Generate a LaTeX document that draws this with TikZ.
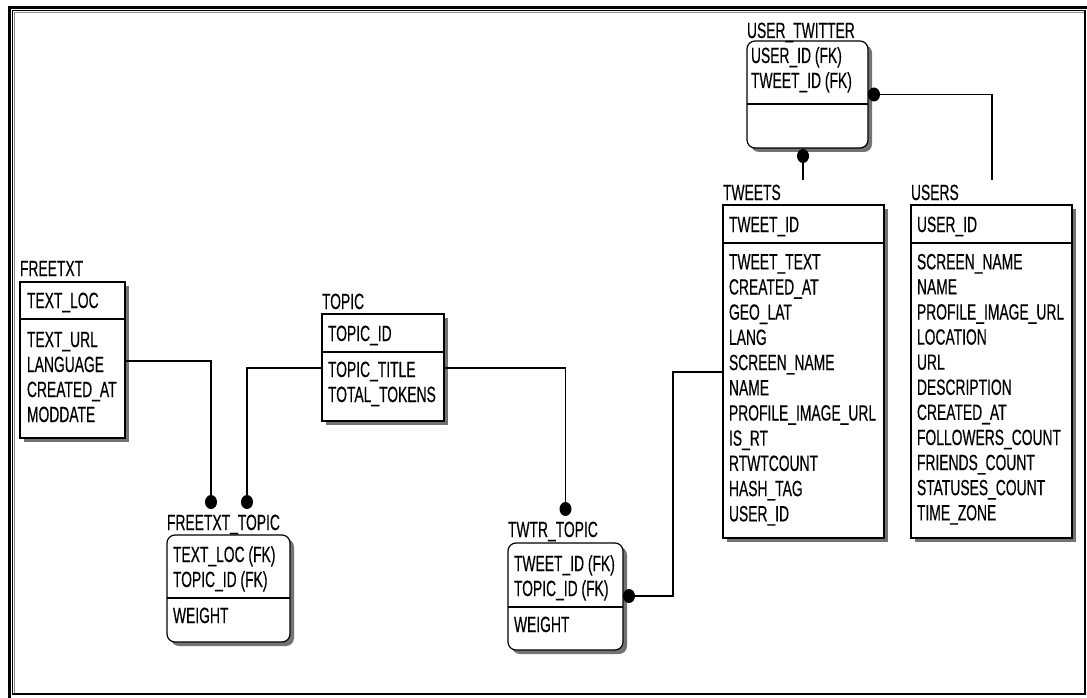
\documentclass[tikz,border=0pt]{standalone}
\usepackage{fontspec}
\setmainfont{Liberation Sans}[FakeStretch=0.63,FakeBold=0.4]
\usetikzlibrary{shapes.geometric,shadows}
\begin{document}
\begin{tikzpicture}[x=1pt,y=-1pt,
  every node/.style={inner sep=0pt, outer sep=0pt},
  txt/.style={anchor=base west, font=\fontsize{22}{25}\selectfont},
  entity/.style={draw, fill=white, line width=1.2pt, anchor=north west,
    drop shadow={shadow xshift=4pt, shadow yshift=-4pt, opacity=1, fill=black!55}},
  depbox/.style={entity, rounded corners=8pt},
  sepline/.style={line width=1.2pt},
  conn/.style={line width=1.2pt},
  fkdot/.style={ellipse, fill=black, minimum width=12pt, minimum height=14pt},
]
\useasboundingbox (0,0) rectangle (1087,698);
\fill[white] (0,0) rectangle (1087,698);
% frame
\draw[line width=3pt] (9.5,698) -- (9.5,7.5) -- (1087,7.5);
\draw[line width=1.2pt] (12.6,10.6) rectangle (1085,694);
\draw[black!45, line width=1.2pt] (14.2,693) -- (14.2,12.2) -- (1084,12.2);

% ---------- FREETXT
\node[entity, minimum width=105pt, minimum height=156pt] (freetxt) at (20,282) {};
\draw[sepline] (freetxt.west |- 0,319) -- (freetxt.east |- 0,319);
\node[txt] (freetxt-name) at (20,276) {FREETXT};
\node[txt] (freetxt-k) at (27,308) {TEXT\_LOC};
\foreach \t [count=\i from 0] in {TEXT\_URL,LANGUAGE,CREATED\_AT,MODDATE}
  \node[txt] (freetxt-a\i) at (27,347+25*\i) {\t};

% ---------- TOPIC
\node[entity, minimum width=122pt, minimum height=107pt] (topic) at (322,314) {};
\draw[sepline] (topic.west |- 0,352) -- (topic.east |- 0,352);
\node[txt] (topic-name) at (322,309) {TOPIC};
\node[txt] (topic-k) at (328,341) {TOPIC\_ID};
\foreach \t [count=\i from 0] in {TOPIC\_TITLE,TOTAL\_TOKENS}
  \node[txt] (topic-a\i) at (328,377+25*\i) {\t};

% ---------- TWEETS
\node[entity, minimum width=161pt, minimum height=333pt] (tweets) at (723,205) {};
\draw[sepline] (tweets.west |- 0,243) -- (tweets.east |- 0,243);
\node[txt] (tweets-name) at (723,200) {TWEETS};
\node[txt] (tweets-k) at (729,232) {TWEET\_ID};
\foreach \t [count=\i from 0] in {TWEET\_TEXT,CREATED\_AT,GEO\_LAT,LANG,SCREEN\_NAME,NAME,PROFILE\_IMAGE\_URL,IS\_RT,RTWTCOUNT,HASH\_TAG,USER\_ID}
  \node[txt] (tweets-a\i) at (729,269.3+25.2*\i) {\t};

% ---------- USERS
\node[entity, minimum width=161pt, minimum height=333pt] (users) at (911,205) {};
\draw[sepline] (users.west |- 0,243) -- (users.east |- 0,243);
\node[txt] (users-name) at (911,200) {USERS};
\node[txt] (users-k) at (917,232) {USER\_ID};
\foreach \t [count=\i from 0] in {SCREEN\_NAME,NAME,PROFILE\_IMAGE\_URL,LOCATION,URL,DESCRIPTION,CREATED\_AT,FOLLOWERS\_COUNT,FRIENDS\_COUNT,STATUSES\_COUNT,TIME\_ZONE}
  \node[txt] (users-a\i) at (917,269.3+25.1*\i) {\t};

% ---------- USER_TWITTER
\node[depbox, minimum width=121pt, minimum height=107pt] (usertw) at (747,41) {};
\draw[sepline] (usertw.west |- 0,104) -- (usertw.east |- 0,104);
\node[txt] (usertw-name) at (747,38) {USER\_TWITTER};
\node[txt] (usertw-k0) at (751,63) {USER\_ID (FK)};
\node[txt] (usertw-k1) at (751,88) {TWEET\_ID (FK)};

% ---------- FREETXT_TOPIC
\node[depbox, minimum width=123pt, minimum height=107pt] (ftopic) at (167,535) {};
\draw[sepline] (ftopic.west |- 0,598) -- (ftopic.east |- 0,598);
\node[txt] (ftopic-name) at (167,530) {FREETXT\_TOPIC};
\node[txt] (ftopic-k0) at (173,562) {TEXT\_LOC (FK)};
\node[txt] (ftopic-k1) at (173,587) {TOPIC\_ID (FK)};
\node[txt] (ftopic-a0) at (173,623) {WEIGHT};

% ---------- TWTR_TOPIC
\node[depbox, minimum width=115pt, minimum height=107pt] (ttopic) at (508,543) {};
\draw[sepline] (ttopic.west |- 0,607) -- (ttopic.east |- 0,607);
\node[txt] (ttopic-name) at (508,537) {TWTR\_TOPIC};
\node[txt] (ttopic-k0) at (514,571) {TWEET\_ID (FK)};
\node[txt] (ttopic-k1) at (514,596) {TOPIC\_ID (FK)};
\node[txt] (ttopic-a0) at (514,632) {WEIGHT};

% ---------- relationship dots and connectors
\node[fkdot] (d1) at (211,502) {};
\node[fkdot] (d2) at (247,502) {};
\node[fkdot] (d3) at (565.5,509) {};
\node[fkdot] (d4) at (629,596) {};
\node[fkdot] (d5) at (803,156) {};
\node[fkdot] (d6) at (874,94.5) {};
\coordinate (e5) at (803,180);
\coordinate (e6) at (992,180);
\coordinate (b4) at (673,372);

\draw[conn] (freetxt.east |- 0,361) -| (d1.center);
\draw[conn] (topic.west |- 0,368) -| (d2.center);
\draw[conn] (topic.east |- 0,368) -| (d3.center);
\draw[conn] (tweets.west |- b4) -- (b4) |- (d4.center);
\draw[conn] (e5) -- (d5.center);
\draw[conn] (e6) |- (d6.center);
\end{tikzpicture}
\end{document}
